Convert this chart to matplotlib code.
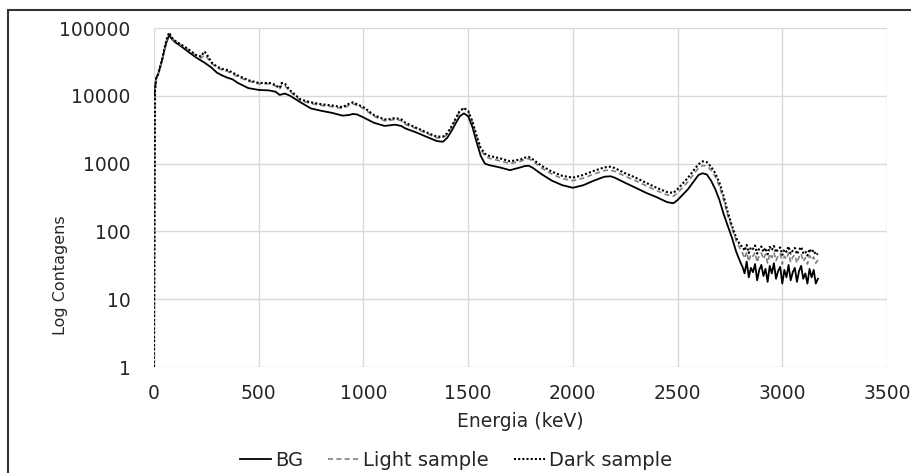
import matplotlib
matplotlib.use("Agg")
import matplotlib.pyplot as plt
from matplotlib.patches import Rectangle
import numpy as np

# -> Spectrum data

energy = [0, 5, 10, 20, 30, 40, 50, 60, 70, 75, 80, 100, 125, 150, 175, 200, 225, 240, 250,
          275, 300, 325, 350, 375, 400, 450, 500, 550, 580, 600, 610, 625, 650, 700, 750, 800,
          850, 900, 930, 950, 970, 1000, 1050, 1100, 1120, 1150, 1180, 1200, 1250, 1300, 1350,
          1380, 1400, 1420, 1440, 1460, 1480, 1500, 1520, 1540, 1560, 1580, 1600, 1650, 1700,
          1750, 1770, 1790, 1810, 1850, 1900, 1950, 2000, 2050, 2100, 2150, 2180, 2200, 2250,
          2300, 2350, 2400, 2450, 2480, 2500, 2550, 2580, 2600, 2620, 2640, 2660, 2680, 2700,
          2720, 2740, 2760, 2780, 2800]
tail_energy = [2810, 2820, 2830, 2840, 2850, 2860, 2870, 2880, 2890, 2900, 2910, 2920, 2930,
               2940, 2950, 2960, 2970, 2980, 2990, 3000, 3010, 3020, 3030, 3040, 3050, 3060,
               3070, 3080, 3090, 3100, 3110, 3120, 3130, 3140, 3150, 3160, 3170]

bg = [9000, 13000, 18000, 21000, 27000, 35000, 48000, 62000, 75000, 77000, 72000, 62000, 55000,
      48000, 42000, 37000, 33000, 31000, 29500, 26000, 22000, 20000, 18500, 17500, 15500, 13000,
      12200, 12000, 11500, 10300, 10500, 10800, 10000, 8000, 6500, 6000, 5600, 5100, 5200, 5400,
      5300, 4800, 4000, 3600, 3650, 3750, 3600, 3300, 2900, 2500, 2150, 2100, 2400, 3000, 3900,
      5000, 5500, 5000, 3500, 2100, 1300, 1000, 950, 880, 800, 880, 920, 930, 860, 700, 560,
      480, 440, 480, 560, 640, 650, 620, 520, 440, 370, 320, 270, 260, 290, 420, 560, 680, 720,
      690, 560, 420, 290, 180, 120, 80, 50, 35]
bg_tail = [30, 24, 36, 21, 29, 25, 33, 19, 27, 32, 22, 28, 18, 31, 24, 34, 20, 26, 30, 17, 27,
           21, 32, 19, 25, 29, 18, 26, 31, 20, 24, 17, 28, 21, 27, 17, 20]

light = [1, 12000, 18000, 21000, 27000, 35000, 49000, 66000, 80000, 83000, 74000, 64000, 57000,
         51000, 45000, 39000, 36000, 40000, 38000, 30000, 26000, 24000, 23000, 21000, 19000,
         16500, 15000, 15000, 14000, 12500, 14500, 14000, 11500, 8500, 7700, 7200, 6900, 6500,
         7200, 7600, 7200, 6500, 5000, 4300, 4300, 4500, 4300, 3800, 3300, 2800, 2400, 2400,
         2700, 3400, 4500, 5900, 6500, 5900, 4100, 2500, 1600, 1300, 1200, 1100, 1000, 1080,
         1150, 1180, 1080, 860, 700, 600, 560, 610, 700, 790, 800, 770, 650, 560, 470, 400, 345,
         330, 370, 540, 720, 860, 940, 920, 800, 640, 460, 290, 170, 110, 72, 55]
light_tail = [48, 40, 50, 36, 46, 43, 49, 35, 45, 48, 39, 46, 34, 47, 41, 49, 37, 44, 47, 33, 43,
              39, 48, 35, 42, 45, 34, 42, 47, 36, 41, 33, 44, 38, 42, 34, 38]

dark = [1, 12000, 18000, 21000, 27000, 36000, 50000, 68000, 82000, 85000, 75000, 65000, 58000,
        52000, 46000, 40000, 38000, 45000, 42000, 31000, 27000, 25000, 24000, 22000, 20000,
        17000, 15500, 15500, 14500, 13000, 15500, 15000, 12000, 8800, 8000, 7500, 7200, 6800,
        7600, 8000, 7500, 6800, 5200, 4500, 4500, 4700, 4500, 4000, 3400, 2900, 2500, 2500,
        2800, 3500, 4600, 6000, 6600, 6000, 4200, 2600, 1700, 1400, 1300, 1200, 1080, 1150,
        1220, 1250, 1150, 930, 760, 660, 620, 680, 780, 880, 900, 860, 720, 620, 520, 440, 380,
        370, 420, 620, 820, 980, 1080, 1050, 900, 720, 520, 330, 190, 120, 80, 62]
dark_tail = [60, 52, 63, 48, 58, 55, 62, 47, 56, 60, 50, 57, 46, 59, 53, 61, 49, 55, 58, 45, 54,
             50, 60, 47, 52, 57, 46, 53, 59, 48, 51, 44, 55, 49, 53, 45, 47]

x = energy + tail_energy

# -> Plot

plt.rcParams['font.family'] = ['DejaVu Sans']
txt = '#262626'

fig = plt.figure(figsize=(9.12, 4.73), dpi=100)
ax = fig.add_axes([154 / 912, 1 - 367 / 473, (887 - 154) / 912, (367 - 28) / 473])

ax.plot(x, bg + bg_tail, color='black', linestyle='-', linewidth=1.3, label='BG')
ax.plot(x, light + light_tail, color='#808080', linestyle=(0, (3, 2)), linewidth=1.2, label='Light sample')
ax.plot(x, dark + dark_tail, color='black', linestyle=(0, (1, 1)), linewidth=1.5, label='Dark sample')

ax.set_yscale('log')
ax.set_xlim(0, 3500)
ax.set_ylim(1, 100000)
ax.set_xticks([0, 500, 1000, 1500, 2000, 2500, 3000, 3500])
ax.set_yticks([1, 10, 100, 1000, 10000, 100000])
ax.set_yticklabels(['1', '10', '100', '1000', '10000', '100000'])
ax.minorticks_off()
ax.tick_params(length=0, labelsize=13.5, colors=txt)
ax.tick_params(axis='x', pad=12)
ax.tick_params(axis='y', pad=17)
ax.grid(True, color='#d9d9d9', linewidth=1)
ax.set_axisbelow(True)
for s in ax.spines.values():
    s.set_visible(False)

ax.set_xlabel('Energia (keV)', fontsize=13.5, color=txt)
ax.xaxis.set_label_coords(0.5, (367 - 412) / 339)
ax.set_ylabel('Log Contagens', fontsize=11.5, color=txt)
ax.yaxis.set_label_coords((68 - 154) / 733, (367 - 275) / 339)

leg = fig.legend(loc='center', bbox_to_anchor=(0.5, 1 - 460 / 473), ncol=3, frameon=False,
                 fontsize=14, handlelength=1.6, handletextpad=0.2, columnspacing=1.3)
for t in leg.get_texts():
    t.set_color(txt)

# figure border
fig.patches.append(Rectangle((8 / 912, -0.01), 1.0, 1 - 10 / 473 + 0.01, fill=False,
                             edgecolor='#333333', linewidth=1.5, transform=fig.transFigure))

fig.savefig('out.png', dpi=100)
